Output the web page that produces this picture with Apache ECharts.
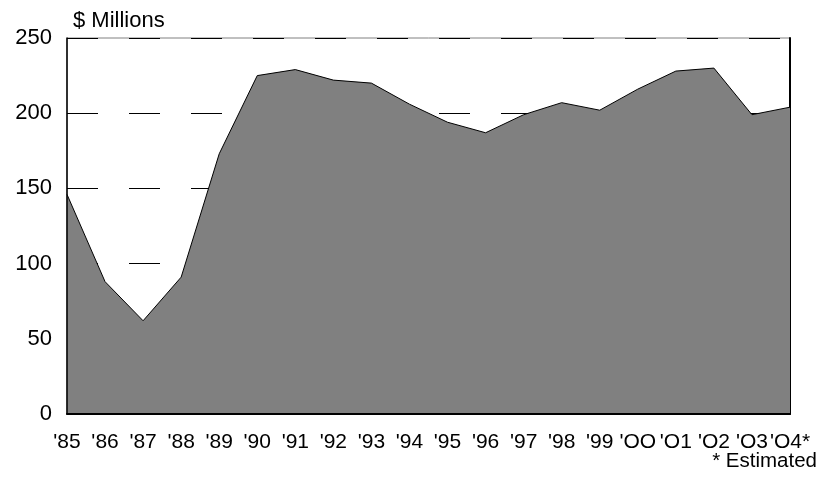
<!DOCTYPE html>
<html><head><meta charset="utf-8">
<script src="https://cdn.jsdelivr.net/npm/echarts@6/dist/echarts.min.js"></script>
<style>html,body{margin:0;padding:0;background:#fff}#c{width:828px;height:480px}</style>
</head><body><div id="c"></div>
<script>
var categories = ["'85","'86","'87","'88","'89","'90","'91","'92","'93","'94","'95","'96","'97","'98","'99","'OO","'O1","'O2","'O3","'O4*"];
var values = [146, 88, 62, 91, 173, 225, 229, 222, 220, 206, 194, 187, 199, 207, 202, 216, 228, 230, 199, 204];
var yMin = 0, yMax = 250, yStep = 50;
var font = '"Liberation Sans", Arial, sans-serif';
var chart = echarts.init(document.getElementById('c'), null, {renderer: 'canvas'});
chart.setOption({
  animation: false,
  backgroundColor: '#ffffff',
  grid: {left: 67, right: 38, top: 38, bottom: 66, show: true, borderColor: '#808080', borderWidth: 1, backgroundColor: 'transparent'},
  xAxis: {
    type: 'category', data: categories, boundaryGap: false, z: 3,
    axisLine: {lineStyle: {color: '#000', width: 2}},
    axisTick: {show: false},
    axisLabel: {color: '#000', fontFamily: font, fontSize: 21, margin: 18, interval: 0},
    splitLine: {show: false}
  },
  yAxis: [{
    type: 'value', min: yMin, max: yMax, interval: yStep, position: 'left', z: 3,
    axisLine: {show: true, lineStyle: {color: '#000', width: 1.5}},
    axisTick: {show: false},
    axisLabel: {color: '#000', fontFamily: font, fontSize: 22, margin: 15},
    splitLine: {show: false}
  }, {
    type: 'value', min: yMin, max: yMax, interval: yStep, position: 'right', z: 0,
    axisLine: {show: true, lineStyle: {color: '#000', width: 2}},
    axisTick: {show: false},
    axisLabel: {show: false},
    splitLine: {show: true, lineStyle: {color: '#000', width: 1, type: [31, 31]}}
  }],
  series: [{
    type: 'line', data: values, yAxisIndex: 0, symbol: 'none', z: 2,
    lineStyle: {color: '#000', width: 1},
    areaStyle: {color: '#808080', opacity: 1}
  }],
  graphic: [
    {type: 'text', left: 73, top: 10, style: {text: '$ Millions', font: '22px ' + font, fill: '#000'}},
    {type: 'text', right: 11, top: 451, style: {text: '* Estimated', font: '20.5px ' + font, fill: '#000'}}
  ]
});
</script></body></html>
